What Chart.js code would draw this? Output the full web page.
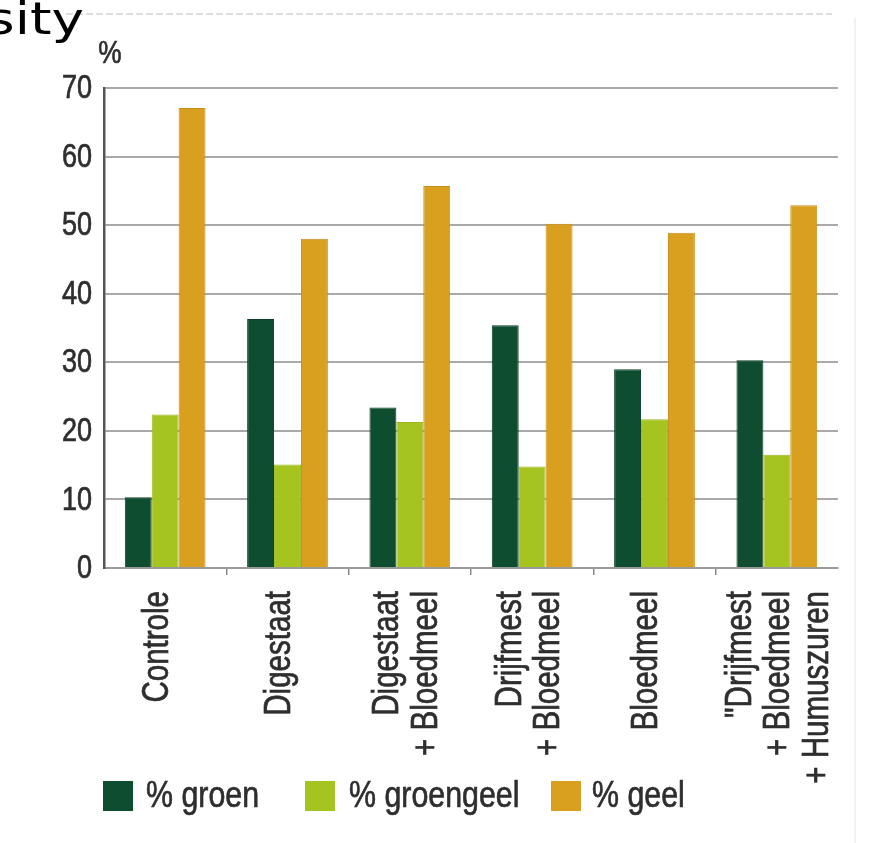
<!DOCTYPE html>
<html>
<head>
<meta charset="utf-8">
<script src="https://cdn.jsdelivr.net/npm/chart.js@4"></script>
<style>
  html, body { margin: 0; padding: 0; background: #ffffff; }
  #wrap { position: relative; width: 875px; height: 843px; overflow: hidden; }
</style>
</head>
<body>
<div id="wrap"><canvas id="c" width="875" height="843"></canvas></div>
<script>
// Treatments (x categories); each line of a label is drawn on its own rotated line
const categories = [
  ['Controle'],
  ['Digestaat'],
  ['Digestaat', '+ Bloedmeel'],
  ['Drijfmest', '+ Bloedmeel'],
  ['Bloedmeel'],
  ['"Drijfmest', '+ Bloedmeel', '+ Humuszuren']
];

// Share of plants per colour class, in %
const groen     = [10.3, 36.3, 23.4, 35.4, 29.0, 30.3];
const groengeel = [22.4, 15.1, 21.3, 14.8, 21.7, 16.5];
const geel      = [67.1, 48.0, 55.7, 50.2, 48.9, 52.9];

const seriesNames = ['% groen', '% groengeel', '% geel'];
const yTicks = [0, 10, 20, 30, 40, 50, 60, 70];
const yUnit = '%';
const titleFragment = 'sity';

const colors = ['#0f4d30', '#a6c420', '#d9a020'];
const borders = ['#0a3e25', '#9ab61c', '#c68d18'];

const SANS = '"Liberation Sans", Arial, sans-serif';
const CONDENSE = 0.82;   // horizontal squeeze giving a narrow face
const INK = '#2e2e2e';

// fill text squeezed (or stretched) along its own direction; optional light stroke for weight
function squeezedText(ctx, text, x, y, rot, sx, align, baseline, weight) {
  ctx.save();
  ctx.translate(x, y);
  if (rot) ctx.rotate(rot);
  ctx.scale(sx, 1);
  ctx.textAlign = align;
  ctx.textBaseline = baseline;
  ctx.fillText(text, 0, 0);
  if (weight) {
    ctx.strokeStyle = ctx.fillStyle;
    ctx.lineWidth = weight;
    ctx.strokeText(text, 0, 0);
  }
  ctx.restore();
}

// Extra drawing: page fragment, axis text, rotated category labels, legend
const decorations = {
  id: 'decorations',
  afterDraw(chart) {
    const ctx = chart.ctx;
    const xs = chart.scales.x;
    const ys = chart.scales.y;
    ctx.save();

    // faint frame remnants
    ctx.strokeStyle = '#d4d4d4';
    ctx.lineWidth = 1.5;
    ctx.setLineDash([7, 3]);
    ctx.beginPath(); ctx.moveTo(66, 14); ctx.lineTo(832, 14); ctx.stroke();
    ctx.setLineDash([]);
    ctx.strokeStyle = '#ececec';
    ctx.beginPath(); ctx.moveTo(855, 18); ctx.lineTo(855, 843); ctx.stroke();

    // heading fragment
    ctx.fillStyle = '#000000';
    ctx.font = '44px "DejaVu Sans", sans-serif';
    squeezedText(ctx, titleFragment, -14, 34, 0, 1.25, 'left', 'alphabetic', 0);

    // unit above the y axis
    ctx.fillStyle = INK;
    ctx.font = '32px ' + SANS;
    squeezedText(ctx, yUnit, 110, 54, 0, CONDENSE, 'center', 'middle', 0.7);

    // y tick labels at the scale's own tick positions
    ctx.font = '33px ' + SANS;
    yTicks.forEach(v => {
      squeezedText(ctx, String(v), 92, ys.getPixelForValue(v) + 1, 0, CONDENSE, 'right', 'middle', 0.7);
    });

    // rotated category labels, reading upwards, ending just under the axis
    ctx.font = '36px ' + SANS;
    const gap = 38.5;
    categories.forEach((lines, i) => {
      const cx = xs.getPixelForValue(i);
      const n = lines.length;
      const first = cx - 7 - (n - 1) * 14.5;
      lines.forEach((line, k) => {
        squeezedText(ctx, line, first + k * gap, 591, -Math.PI / 2, CONDENSE, 'right', 'middle', 0.7);
      });
    });

    // legend
    const boxX = [103, 305, 551];
    const textX = [146, 349, 592];
    ctx.font = '37px ' + SANS;
    seriesNames.forEach((name, i) => {
      ctx.fillStyle = colors[i];
      ctx.fillRect(boxX[i], 781, 30, 30);
      ctx.fillStyle = INK;
      squeezedText(ctx, name, textX[i], 797, 0, CONDENSE, 'left', 'middle', 0.7);
    });

    ctx.restore();
  }
};

const values = [groen, groengeel, geel];

new Chart(document.getElementById('c'), {
  type: 'bar',
  data: {
    labels: categories.map(l => l.join(' ')),
    datasets: seriesNames.map((name, i) => ({
      label: name,
      data: values[i],
      backgroundColor: colors[i],
      borderColor: borders[i],
      borderWidth: 1,
      categoryPercentage: 0.66,
      barPercentage: 1.0
    }))
  },
  options: {
    responsive: false,
    animation: false,
    devicePixelRatio: 1,
    layout: { padding: { left: 0, top: 88, right: 37, bottom: 0 } },
    plugins: {
      legend: { display: false },
      tooltip: { enabled: false }
    },
    scales: {
      x: {
        offset: true,
        ticks: { display: false },
        grid: {
          display: true,
          offset: true,
          drawOnChartArea: false,
          drawTicks: true,
          tickLength: 7,
          lineWidth: 1.5,
          color: (c) => (c.type === 'tick' && c.index > 0) ? '#8a8a8a' : 'rgba(0,0,0,0)'
        },
        border: { display: true, color: '#9a9a9a', width: 2 },
        afterFit(s) { s.height = 843 - 568; }
      },
      y: {
        min: 0,
        max: 70,
        afterBuildTicks(s) { s.ticks = yTicks.map(v => ({ value: v })); },
        ticks: { display: false },
        grid: {
          color: '#a9a9a9',
          lineWidth: 2,
          drawTicks: false
        },
        border: { display: true, color: '#555555', width: 2.5 },
        afterFit(s) { s.width = 104; }
      }
    }
  },
  plugins: [decorations]
});
</script>
</body>
</html>
